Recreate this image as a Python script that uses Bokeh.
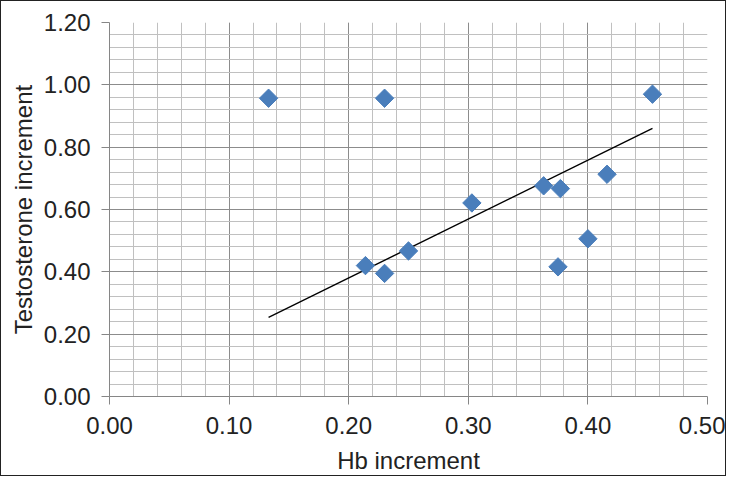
import math
from bokeh.plotting import figure
from bokeh.models import Range1d, FixedTicker, PrintfTickFormatter
from bokeh.embed import file_html
from bokeh.resources import INLINE

# Data
hb_increment = [0.133, 0.230, 0.303, 0.454, 0.363, 0.377, 0.416, 0.400, 0.375, 0.214, 0.230, 0.250]
testosterone_increment = [0.957, 0.957, 0.621, 0.970, 0.676, 0.667, 0.713, 0.506, 0.416, 0.420, 0.395, 0.467]

# Trend line end points as drawn in the reference
trend_x = [0.133, 0.454]
trend_y = [0.254, 0.860]

x_major = [0.0, 0.1, 0.2, 0.3, 0.4, 0.5]
x_minor = [round(i * 0.02, 2) for i in range(26)]
y_major = [0.0, 0.2, 0.4, 0.6, 0.8, 1.0, 1.2]
y_minor = [round(i * 0.04, 2) for i in range(31)]

FONT = "Liberation Sans"
TXT = "#222222"

p = figure(width=726, height=476, output_backend="svg", toolbar_location=None,
           x_range=Range1d(0, 0.5), y_range=Range1d(0, 1.2),
           min_border_left=108, min_border_right=20, min_border_top=21, min_border_bottom=81)
p.styles = {"border": "1px solid #222222"}
p.background_fill_color = "white"
p.border_fill_color = "white"
p.outline_line_color = None

p.xaxis.ticker = FixedTicker(ticks=x_major, minor_ticks=x_minor)
p.yaxis.ticker = FixedTicker(ticks=y_major, minor_ticks=y_minor)
p.xaxis.formatter = PrintfTickFormatter(format="%.2f")
p.yaxis.formatter = PrintfTickFormatter(format="%.2f")

for ax in (p.xaxis, p.yaxis):
    ax.axis_line_color = "#868686"
    ax.major_tick_line_color = "#868686"
    ax.major_tick_out = 8
    ax.major_tick_in = 0
    ax.minor_tick_line_color = None
    ax.major_label_text_font = FONT
    ax.major_label_text_font_size = "24px"
    ax.major_label_text_color = TXT
    ax.axis_label_text_font = FONT
    ax.axis_label_text_font_size = "24px"
    ax.axis_label_text_font_style = "normal"
    ax.axis_label_text_color = TXT

p.xaxis.axis_label = "Hb increment"
p.yaxis.axis_label = "Testosterone increment"
p.xaxis.major_label_standoff = 12
p.yaxis.major_label_standoff = 11
p.xaxis.axis_label_standoff = 10
p.yaxis.axis_label_standoff = 4

for g in (p.xgrid, p.ygrid):
    g.grid_line_color = "#8c8c8c"
    g.grid_line_width = 1
    g.minor_grid_line_color = "#c0c0c0"
    g.minor_grid_line_width = 1

p.line(trend_x, trend_y, line_color="black", line_width=1.4)
p.scatter(hb_increment, testosterone_increment, marker="square", angle=math.pi / 4,
          size=13, fill_color="#4a7ebb", line_color="#4a7ebb")

open("out.html", "w").write(file_html(p, INLINE))
